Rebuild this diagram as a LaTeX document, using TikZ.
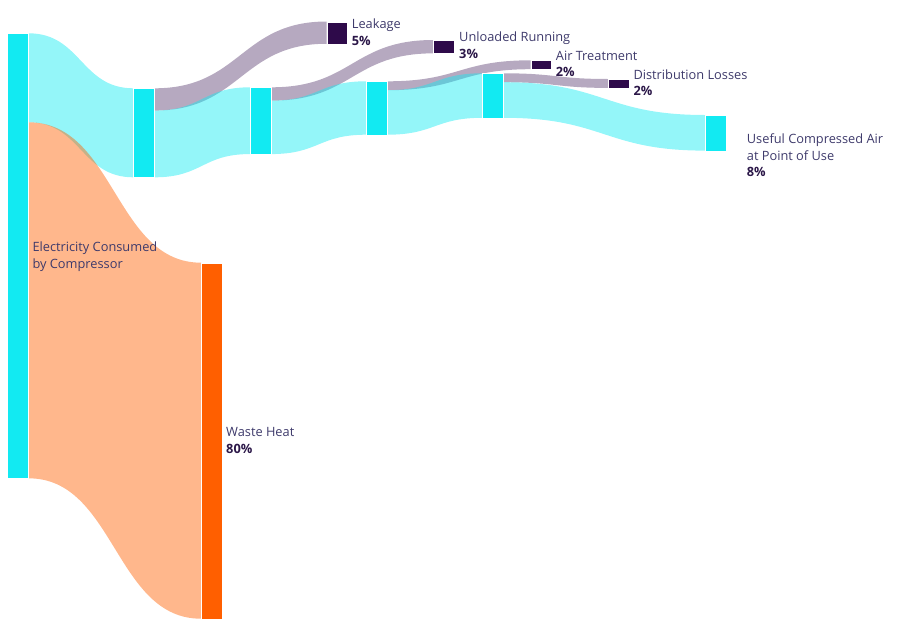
\documentclass[tikz,border=0pt]{standalone}
\usepackage{fontspec}
\setmainfont{Open Sans}
\usetikzlibrary{calc,backgrounds}
\definecolor{cyanNode}{HTML}{12EAF2}
\definecolor{orangeNode}{HTML}{FF5F00}
\definecolor{lossNode}{HTML}{2E0A4A}
\definecolor{labelText}{HTML}{3E3A6B}
\definecolor{pctText}{HTML}{2B1748}
\newcommand\sflow[6]{%
  \path ([yshift=-#3pt]#2.north east) coordinate (s1)
        ([yshift=-#3pt-#6pt]#2.north east) coordinate (s2)
        ([yshift=-#5pt]#4.north west) coordinate (t1)
        ([yshift=-#5pt-#6pt]#4.north west) coordinate (t2);
  \fill[#1] let \p1=(s1), \p2=(t1), \p3=(t2), \p4=(s2) in
    (\p1) .. controls ({(\x1+\x2)/2},\y1) and ({(\x1+\x2)/2},\y2) .. (\p2)
    -- (\p3) .. controls ({(\x1+\x2)/2},\y3) and ({(\x1+\x2)/2},\y4) .. (\p4) -- cycle;
}
\tikzset{
  bar/.style={rectangle, anchor=north west, inner sep=0pt, minimum width=20.7pt, draw=white, line width=0.6pt},
  cyanbar/.style={bar, fill=cyanNode},
  orangebar/.style={bar, fill=orangeNode},
  lossbar/.style={bar, fill=lossNode},
  cyanflow/.style={fill=cyanNode, fill opacity=0.45},
  orangeflow/.style={fill=orangeNode, fill opacity=0.45},
  lossflow/.style={fill=lossNode, fill opacity=0.35},
  lbl/.style={anchor=base west, inner sep=0pt, text=labelText, font=\fontsize{12.8}{16.7}\selectfont},
}
\newcommand\pc[1]{\textcolor{pctText}{\bfseries #1}}
\begin{document}
\begin{tikzpicture}[x=1pt,y=-1pt]
\useasboundingbox (0,0) rectangle (901,627);
% nodes
\node[cyanbar, minimum height=445pt] (n0) at (7.3,33.3) {};
\node[cyanbar, minimum height=89pt] (n1) at (133.3,88.3) {};
\node[cyanbar, minimum height=66.75pt] (n2) at (250,87.3) {};
\node[cyanbar, minimum height=53.4pt] (n3) at (366,81.3) {};
\node[cyanbar, minimum height=44.5pt] (n4) at (482.3,73.3) {};
\node[lossbar, minimum height=22.25pt] (leak) at (326.7,21.5) {};
\node[lossbar, minimum height=13.35pt] (unl) at (433.3,40) {};
\node[lossbar, minimum height=8.9pt] (at) at (530.7,60.3) {};
\node[lossbar, minimum height=8.9pt] (dl) at (608.3,79) {};
\node[cyanbar, minimum height=35.6pt] (use) at (705,115) {};
\node[orangebar, minimum height=356pt] (waste) at (201,262.7) {};
% flows
\begin{scope}[on background layer]
\sflow{cyanflow}{n0}{0}{n1}{0}{89}
\sflow{orangeflow}{n0}{89}{waste}{0}{356}
\sflow{lossflow}{n1}{0}{leak}{0}{22.25}
\sflow{cyanflow}{n1}{22.25}{n2}{0}{66.75}
\sflow{lossflow}{n2}{0}{unl}{0}{13.35}
\sflow{cyanflow}{n2}{13.35}{n3}{0}{53.4}
\sflow{lossflow}{n3}{0}{at}{0}{8.9}
\sflow{cyanflow}{n3}{8.9}{n4}{0}{44.5}
\sflow{lossflow}{n4}{0}{dl}{0}{8.9}
\sflow{cyanflow}{n4}{8.9}{use}{0}{35.6}
\end{scope}
% labels
\node[lbl] (lElec) at (32.3,251.7) {\begin{tabular}[t]{@{}l@{}}Electricity Consumed\\ by Compressor\end{tabular}};
\node[lbl] (lWaste) at (226,436.7) {\begin{tabular}[t]{@{}l@{}}Waste Heat\\ \pc{80\%}\end{tabular}};
\node[lbl] (lLeak) at (351.7,28.3) {\begin{tabular}[t]{@{}l@{}}Leakage\\ \pc{5\%}\end{tabular}};
\node[lbl] (lUnl) at (459,41.7) {\begin{tabular}[t]{@{}l@{}}Unloaded Running\\ \pc{3\%}\end{tabular}};
\node[lbl] (lAt) at (555.7,60) {\begin{tabular}[t]{@{}l@{}}Air Treatment\\ \pc{2\%}\end{tabular}};
\node[lbl] (lDl) at (633.3,79) {\begin{tabular}[t]{@{}l@{}}Distribution Losses\\ \pc{2\%}\end{tabular}};
\node[lbl] (lUse) at (746.7,143.3) {\begin{tabular}[t]{@{}l@{}}Useful Compressed Air\\ at Point of Use\\ \pc{8\%}\end{tabular}};
\end{tikzpicture}
\end{document}
